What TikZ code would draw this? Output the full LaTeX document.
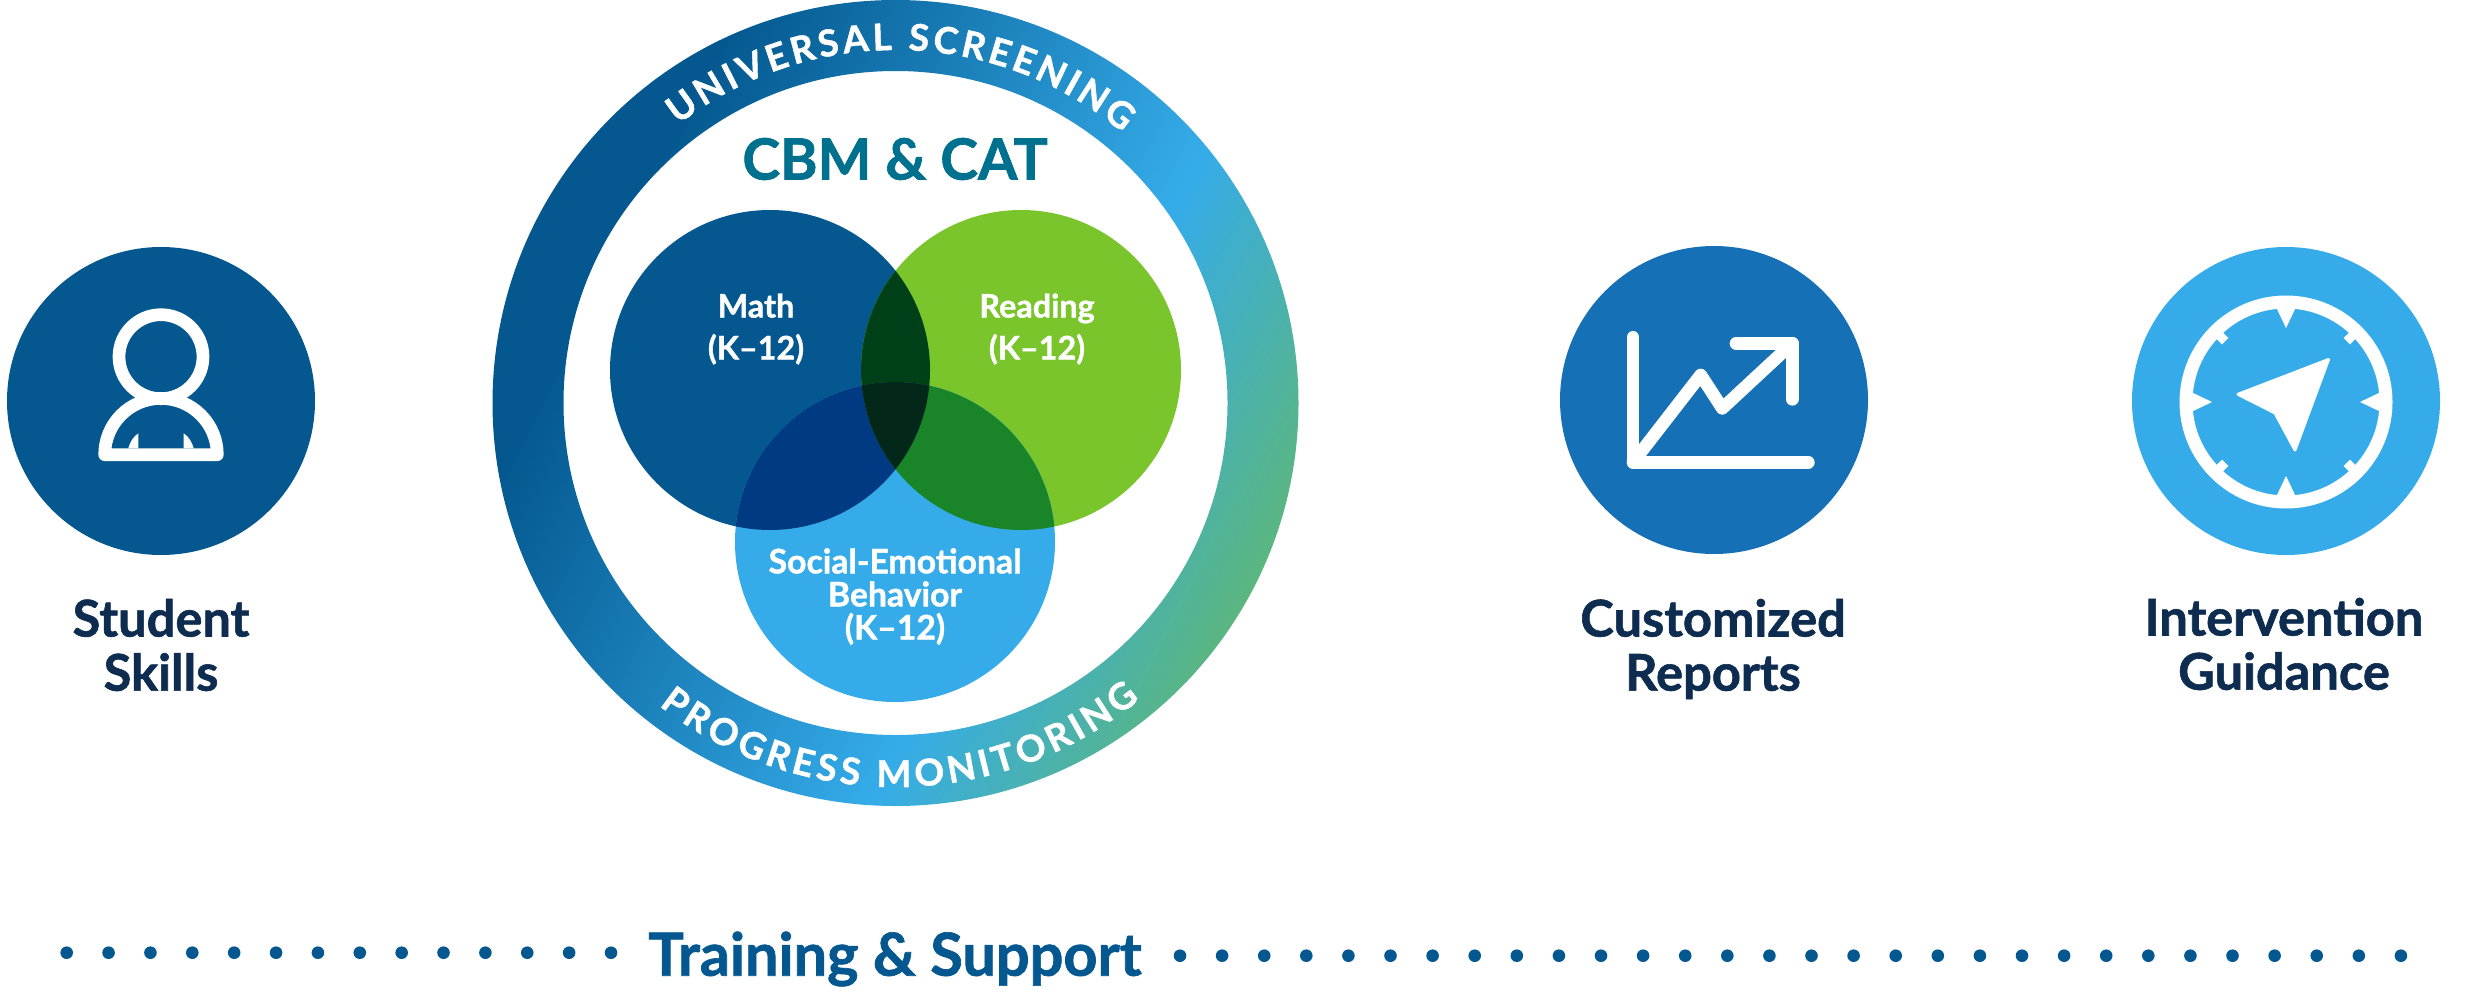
\documentclass[tikz,border=0pt]{standalone}
\usepackage{fontspec}
\setmainfont{Lato}[BoldFeatures={FakeBold=1.2}]
\usepackage{xcolor}
\usepackage{tikz}
\usetikzlibrary{calc,decorations.text}
\definecolor{scrnavy}{HTML}{04588F}
\definecolor{scrblue}{HTML}{1570B5}
\definecolor{scrsky}{HTML}{35ACE9}
\definecolor{scrleaf}{HTML}{7AC42C}
\definecolor{scrmoss}{HTML}{5BB67F}
\definecolor{scrink}{HTML}{0D2C4F}
\definecolor{scrteal}{HTML}{00708F}
\definecolor{mathread}{HTML}{004019}
\definecolor{mathsocial}{HTML}{003A82}
\definecolor{readsocial}{HTML}{1A8428}
\definecolor{allthree}{HTML}{03281A}
\pgfdeclareverticalshading{ringfade}{100bp}{color(0bp)=(scrnavy); color(30bp)=(scrnavy); color(60bp)=(scrsky); color(75bp)=(scrmoss); color(100bp)=(scrmoss)}
\tikzset{
  iconline/.style={draw=white, line width=1.27mm, line cap=round, line join=round},
  caption/.style={font=\bfseries\fontsize{14.4}{15.4}\selectfont, text=scrink, align=center},
  venntext/.style={font=\bfseries\fontsize{9.2}{11.9}\selectfont, text=white, align=center},
}
\begin{document}
\begin{tikzpicture}[x=1cm,y=1cm]
  \useasboundingbox (0,0) rectangle (24.65,9.92);
  \coordinate (ringc) at (8.955,5.89);

  % Student skills
  \fill[scrnavy] (1.61,5.91) circle (1.54);
  \draw[iconline] (1.61,6.353) circle (0.42);
  \draw[iconline] (1.047,5.373) arc (180:0:0.563) -- cycle;
  \fill[white] (1.283,5.437) .. controls (1.30,5.50) and (1.33,5.55) .. (1.383,5.587) -- (1.383,5.437) -- cycle;
  \fill[white] (1.937,5.437) .. controls (1.92,5.50) and (1.89,5.55) .. (1.837,5.587) -- (1.837,5.437) -- cycle;
  \node[caption] (student) at (1.61,3.47) {Student\\Skills};

  % Outer ring
  \shade[shading=ringfade, shading angle=-117, even odd rule] (ringc) circle (4.03) (ringc) circle (3.32);
  \path[postaction={decorate}, decoration={text along path, text align={fit to path},
    text={|\fontsize{10.5}{12}\selectfont\bfseries\color{white}|UNIVERSAL SCREENING}}]
    ([shift={(128:3.53)}]ringc) arc (128:50:3.53);
  \path[postaction={decorate}, decoration={text along path, text align={fit to path},
    text={|\fontsize{10.5}{12}\selectfont\bfseries\color{white}|PROGRESS MONITORING}}]
    ([shift={(232:3.84)}]ringc) arc (232:309.5:3.84);
  \node[font=\bfseries\fontsize{16.2}{18}\selectfont, text=scrteal] (cbm) at (8.95,8.33) {CBM \& CAT};

  % Venn
  \fill[scrnavy] (7.70,6.22) circle (1.60);
  \fill[scrleaf] (10.21,6.22) circle (1.60);
  \fill[scrsky] (8.95,4.50) circle (1.60);
  \begin{scope}
    \clip (7.70,6.22) circle (1.60);
    \fill[mathread] (10.21,6.22) circle (1.60);
    \fill[mathsocial] (8.95,4.50) circle (1.60);
  \end{scope}
  \begin{scope}
    \clip (10.21,6.22) circle (1.60);
    \fill[readsocial] (8.95,4.50) circle (1.60);
    \clip (8.95,4.50) circle (1.60);
    \fill[allthree] (7.70,6.22) circle (1.60);
  \end{scope}
  \node[venntext] (math) at (7.56,6.63) {Math\\(K--12)};
  \node[venntext] (reading) at (10.37,6.63) {Reading\\(K--12)};
  \node[venntext, font=\bfseries\fontsize{9.6}{9.4}\selectfont] (social) at (8.95,3.955) {Social-Emotional\\Behavior\\(K--12)};

  % Customized reports
  \fill[scrblue] (17.14,5.92) circle (1.54);
  \draw[iconline] (16.33,6.547) -- (16.33,5.297) -- (18.083,5.297);
  \draw[iconline] (16.33,5.297) -- (17.007,6.17) -- (17.223,5.837) -- (17.923,6.487);
  \draw[iconline] (17.36,6.487) -- (17.923,6.487) -- (17.923,5.927);
  \node[caption] (reports) at (17.13,3.43) {Customized\\Reports};

  % Intervention guidance
  \fill[scrsky] (22.86,5.91) circle (1.54);
  \begin{scope}[shift={(22.86,5.90)}]
    \draw[white, line width=1.3mm] (0,0) circle (1.00);
    \foreach \a in {0,90,180,270}
      \fill[white, rotate=\a] (0.96,-0.105) -- (0.74,0) -- (0.96,0.105) -- cycle;
    \foreach \a in {45,135,225,315}
      \draw[white, line width=0.9mm, rotate=\a] (0.86,0) -- (0.98,0);
    \filldraw[white, line width=0.3mm, line join=round] (-0.48,0.077) -- (0.425,0.425) -- (0.09,-0.48) -- (-0.11,-0.11) -- cycle;
  \end{scope}
  \node[caption] (guidance) at (22.84,3.48) {Intervention\\Guidance};

  % Training row
  \node[font=\bfseries\fontsize{16.9}{18}\selectfont, text=scrnavy] (training) at (8.95,0.33) {Training \& Support};
  \foreach \i in {0,...,13}
    \fill[scrnavy] ({0.667+0.4187*\i},0.393) circle (0.063);
  \foreach \i in {0,...,29}
    \fill[scrnavy] ({11.80+0.421*\i},0.363) circle (0.063);
\end{tikzpicture}
\end{document}
